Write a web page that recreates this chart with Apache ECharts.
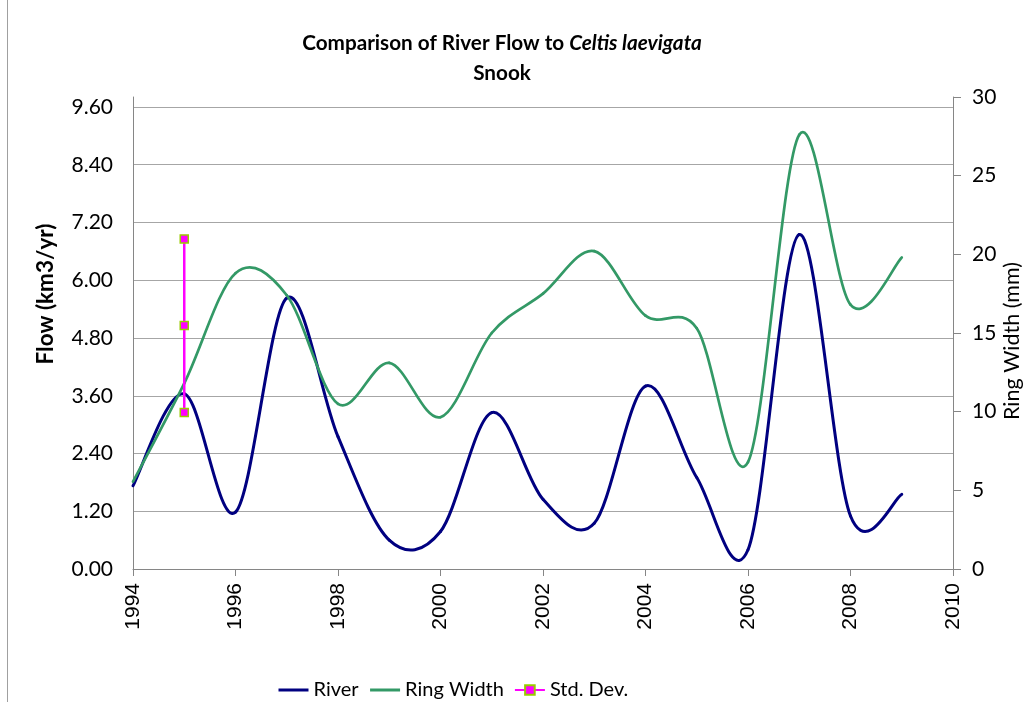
<!DOCTYPE html>
<html>
<head>
<meta charset="utf-8">
<script src="https://cdn.jsdelivr.net/npm/echarts@6/dist/echarts.min.js"></script>
<style>
  html, body { margin: 0; padding: 0; background: #ffffff; }
  #chart { width: 1023px; height: 702px; }
</style>
</head>
<body>
<div id="chart"></div>
<script>
// Annual series, 1994-2009
const years = [1994, 1995, 1996, 1997, 1998, 1999, 2000, 2001, 2002, 2003, 2004, 2005, 2006, 2007, 2008, 2009];
// River flow, km3/yr (left axis)
const riverFlow = [1.73, 3.64, 1.18, 5.63, 2.75, 0.60, 0.78, 3.25, 1.45, 0.95, 3.80, 1.90, 0.40, 6.95, 1.10, 1.55];
// Celtis laevigata ring width, mm (right axis)
const ringWidth = [5.55, 11.8, 18.8, 17.4, 10.5, 13.1, 9.65, 15.0, 17.5, 20.2, 16.1, 15.3, 6.8, 27.6, 16.8, 19.8];
// Mean ring width and mean +/- one standard deviation, plotted at one year
const stdDevYear = 1995;
const stdDevValues = [9.95, 15.47, 20.98];

const RIVER_COLOR = '#000080';
const RING_COLOR = '#339966';
const axisGray = '#868686';
const gridGray = '#a6a6a6';
const calibriLike = 'Lato, "Open Sans", sans-serif';
const arialLike = '"Liberation Sans", Arial, sans-serif';

// Smoothed curve through the points (cardinal spline, tension 1/6),
// one cubic segment per data item, positioned with the axis scales.
function smoothCurveSeries(xs, ys, xAxisIndex, yAxisIndex, color, width) {
  const n = xs.length;
  return {
    type: 'custom',
    xAxisIndex: xAxisIndex,
    yAxisIndex: yAxisIndex,
    silent: true,
    encode: { x: 0, y: 1 },
    data: xs.map((x, i) => [x, ys[i]]),
    renderItem: function (params, api) {
      const i = params.dataIndex;
      if (i >= n - 1) return null;
      const pt = k => {
        const j = Math.max(0, Math.min(n - 1, k));
        return api.coord([xs[j], ys[j]]);
      };
      const p0 = pt(i - 1), p1 = pt(i), p2 = pt(i + 1), p3 = pt(i + 2);
      return {
        type: 'bezierCurve',
        shape: {
          x1: p1[0], y1: p1[1],
          x2: p2[0], y2: p2[1],
          cpx1: p1[0] + (p2[0] - p0[0]) / 6,
          cpy1: p1[1] + (p2[1] - p0[1]) / 6,
          cpx2: p2[0] - (p3[0] - p1[0]) / 6,
          cpy2: p2[1] - (p3[1] - p1[1]) / 6
        },
        style: { fill: 'none', stroke: color, lineWidth: width, lineCap: 'round' }
      };
    }
  };
}

// Named line series that carry the legend entries; their own strokes are hidden
function legendCarrier(name, xs, ys, xAxisIndex, yAxisIndex, color) {
  return {
    name: name,
    type: 'line',
    xAxisIndex: xAxisIndex,
    yAxisIndex: yAxisIndex,
    symbol: 'none',
    silent: true,
    color: color,
    lineStyle: { color: color, opacity: 0 },
    data: xs.map((x, i) => [x, ys[i]])
  };
}

const titleFont = { fontFamily: calibriLike, fontSize: 20.7, fontWeight: 'bold', color: '#000', lineHeight: 30 };

const chart = echarts.init(document.getElementById('chart'), null, { renderer: 'canvas' });

chart.setOption({
  animation: false,
  backgroundColor: '#ffffff',
  graphic: [
    {
      type: 'line',
      shape: { x1: 7.5, y1: 0, x2: 7.5, y2: 702 },
      style: { stroke: '#a0a0a0', lineWidth: 1 },
      silent: true
    },
    {
      // chart title, two centred lines
      type: 'text',
      x: 502,
      y: 28,
      style: {
        text: '{b|Comparison of River Flow to }{bi|Celtis laevigata}\n{b|Snook}',
        align: 'center',
        verticalAlign: 'top',
        rich: {
          b: titleFont,
          bi: Object.assign({}, titleFont, { fontStyle: 'italic' })
        }
      },
      silent: true
    },
    {
      type: 'text',
      x: 46,
      y: 294,
      rotation: Math.PI / 2,
      style: {
        text: 'Flow (km3/yr)',
        font: 'bold 22.5px ' + calibriLike,
        fill: '#000',
        align: 'center',
        verticalAlign: 'middle'
      },
      silent: true
    },
    {
      type: 'text',
      x: 1012,
      y: 341,
      rotation: Math.PI / 2,
      style: {
        text: 'Ring Width (mm)',
        font: '21.5px ' + calibriLike,
        fill: '#000',
        align: 'center',
        verticalAlign: 'middle'
      },
      silent: true
    }
  ],
  legend: {
    left: 272,
    top: 675,
    itemWidth: 30,
    itemHeight: 12,
    itemGap: 10,
    data: [
      { name: 'River', itemStyle: { opacity: 0 }, lineStyle: { opacity: 1, width: 3, color: RIVER_COLOR } },
      { name: 'Ring Width', itemStyle: { opacity: 0 }, lineStyle: { opacity: 1, width: 3, color: RING_COLOR } },
      { name: 'Std. Dev.' }
    ],
    textStyle: { fontFamily: calibriLike, fontSize: 20, color: '#000' }
  },
  grid: [
    { left: 133, right: 70, top: 107, bottom: 133, outerBoundsMode: 'none' },
    { left: 133, right: 70, top: 97, bottom: 133, outerBoundsMode: 'none' }
  ],
  xAxis: [
    {
      gridIndex: 0,
      type: 'value',
      min: 1994,
      max: 2010,
      interval: 2,
      axisLine: { show: true, lineStyle: { color: axisGray, width: 1 } },
      axisTick: { show: true, length: 7, lineStyle: { color: axisGray } },
      axisLabel: { rotate: 90, margin: 14, fontFamily: arialLike, fontSize: 21, color: '#000', formatter: v => String(v) },
      splitLine: { show: false }
    },
    {
      gridIndex: 1,
      type: 'value',
      min: 1994,
      max: 2010,
      show: false
    }
  ],
  yAxis: [
    {
      gridIndex: 0,
      type: 'value',
      position: 'left',
      min: 0,
      max: 9.6,
      interval: 1.2,
      axisLine: { show: true, lineStyle: { color: axisGray, width: 1 } },
      axisTick: { show: false },
      axisLabel: { margin: 20, fontFamily: calibriLike, fontSize: 21, color: '#000', formatter: v => v.toFixed(2) },
      splitLine: { show: true, lineStyle: { color: gridGray, width: 1 } }
    },
    {
      gridIndex: 1,
      type: 'value',
      position: 'right',
      min: 0,
      max: 30,
      interval: 5,
      axisLine: { show: true, lineStyle: { color: axisGray, width: 1 } },
      axisTick: { show: true, length: 8, lineStyle: { color: axisGray } },
      axisLabel: { margin: 19, fontFamily: calibriLike, fontSize: 21, color: '#000' },
      splitLine: { show: false }
    },
    {
      // full-height left edge of the plot area
      gridIndex: 1,
      type: 'value',
      position: 'left',
      min: 0,
      max: 30,
      axisLine: { show: true, lineStyle: { color: axisGray, width: 1 } },
      axisTick: { show: false },
      axisLabel: { show: false },
      splitLine: { show: false }
    }
  ],
  series: [
    legendCarrier('River', years, riverFlow, 0, 0, RIVER_COLOR),
    legendCarrier('Ring Width', years, ringWidth, 1, 1, RING_COLOR),
    smoothCurveSeries(years, riverFlow, 0, 0, RIVER_COLOR, 3),
    smoothCurveSeries(years, ringWidth, 1, 1, RING_COLOR, 2.7),
    {
      name: 'Std. Dev.',
      type: 'line',
      xAxisIndex: 1,
      yAxisIndex: 1,
      symbol: 'rect',
      symbolSize: 8,
      showAllSymbol: true,
      color: '#ff00ff',
      itemStyle: { color: '#ff00ff', borderColor: '#99cc00', borderWidth: 1.5 },
      lineStyle: { color: '#ff00ff', width: 2.5 },
      data: stdDevValues.map(v => [stdDevYear, v])
    }
  ]
});
</script>
</body>
</html>
